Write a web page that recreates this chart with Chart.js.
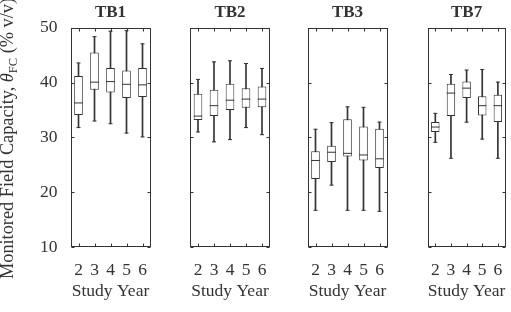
<!DOCTYPE html>
<html>
<head>
<meta charset="utf-8">
<script src="https://cdn.jsdelivr.net/npm/chart.js@4.4.1/dist/chart.umd.min.js"></script>
<style>
  body { margin: 0; background: #fff; }
  #wrap { position: relative; width: 511px; height: 312px; overflow: hidden; }
  #wrap canvas { position: absolute; left: 0; top: 0; }
  #ylabel {
    position: absolute; left: -2px; top: 279px;
    transform-origin: left top; transform: rotate(-90deg);
    font: 18.3px "Liberation Serif", "Times New Roman", serif;
    line-height: 1; white-space: nowrap; color: #333;
  }
  #ylabel sub { font-size: 12.5px; vertical-align: -4px; }
</style>
</head>
<body>
<div id="wrap">
  <canvas id="c0" width="511" height="312"></canvas>
  <canvas id="c1" width="511" height="312"></canvas>
  <canvas id="c2" width="511" height="312"></canvas>
  <canvas id="c3" width="511" height="312"></canvas>
  <div id="ylabel">Monitored Field Capacity, <i>θ</i><sub>FC</sub> (% v/v)</div>
</div>
<script>
const years = ['2', '3', '4', '5', '6'];
const sites = ['TB1', 'TB2', 'TB3', 'TB7'];
const yTicks = [10, 20, 30, 40, 50];

// five-number summaries per site, one value per study year
const tb1Min = [31.8, 33.0, 32.5, 30.8, 30.1];
const tb1Q1  = [34.1, 38.7, 38.2, 37.2, 37.4];
const tb1Med = [36.3, 40.1, 40.2, 39.7, 39.6];
const tb1Q3  = [41.2, 45.5, 42.7, 42.2, 42.7];
const tb1Max = [43.6, 48.4, 49.4, 49.5, 47.1];

const tb2Min = [31.0, 29.2, 29.6, 31.8, 30.5];
const tb2Q1  = [33.2, 33.9, 35.0, 35.4, 35.5];
const tb2Med = [33.9, 35.8, 36.8, 37.0, 37.0];
const tb2Q3  = [38.0, 38.7, 39.8, 39.0, 39.3];
const tb2Max = [40.6, 43.8, 44.0, 43.5, 42.6];

const tb3Min = [16.7, 21.3, 16.7, 16.7, 16.5];
const tb3Q1  = [22.4, 25.5, 26.5, 25.8, 24.4];
const tb3Med = [25.8, 27.3, 27.1, 26.8, 26.1];
const tb3Q3  = [27.5, 28.5, 33.3, 32.0, 31.6];
const tb3Max = [31.5, 32.7, 35.6, 35.5, 32.8];

const tb7Min = [29.1, 26.2, 32.8, 29.7, 26.2];
const tb7Q1  = [31.0, 33.9, 37.2, 34.0, 32.8];
const tb7Med = [31.9, 38.1, 39.0, 35.8, 35.8];
const tb7Q3  = [32.8, 39.8, 40.2, 37.5, 37.8];
const tb7Max = [34.4, 41.5, 42.3, 42.4, 40.1];

const stats = [
  [tb1Min, tb1Q1, tb1Med, tb1Q3, tb1Max],
  [tb2Min, tb2Q1, tb2Med, tb2Q3, tb2Max],
  [tb3Min, tb3Q1, tb3Med, tb3Q3, tb3Max],
  [tb7Min, tb7Q1, tb7Med, tb7Q3, tb7Max],
];

const panelLeft = [70.5, 190, 307.5, 427.5];
const panelRight = [150.5, 270, 387.5, 507.5];
const ink = '#333';
const serif = '"Liberation Serif", "Times New Roman", serif';

// matlab style frame with inward ticks on all four sides
const frame = {
  id: 'frame',
  afterDraw(chart) {
    const {ctx, chartArea: a, scales: {x, y}} = chart;
    const L = Math.round(a.left) + 0.5, R = Math.round(a.right) - 0.5;
    const T = Math.round(a.top) + 0.5, B = Math.round(a.bottom) - 0.5;
    const tl = 3;
    ctx.save();
    ctx.strokeStyle = ink;
    ctx.lineWidth = 1;
    ctx.strokeRect(L, T, R - L, B - T);
    ctx.beginPath();
    years.forEach((_, i) => {
      const px = Math.round(x.getPixelForValue(i)) + 0.5;
      ctx.moveTo(px, B); ctx.lineTo(px, B - tl);
      ctx.moveTo(px, T); ctx.lineTo(px, T + tl);
    });
    yTicks.forEach(v => {
      const py = Math.round(y.getPixelForValue(v)) + 0.5;
      ctx.moveTo(L, py); ctx.lineTo(L + tl, py);
      ctx.moveTo(R, py); ctx.lineTo(R - tl, py);
    });
    ctx.stroke();
    ctx.restore();
  }
};

const makePanel = (k) => {
  const [mn, q1, med, q3, mx] = stats[k];
  const boxes = q1.map((v, i) => [v, q3[i]]);
  const whiskers = mn.map((v, i) => [v, mx[i]]);
  const caps = mn.concat(mx);
  const capLabels = years.concat(years);

  new Chart(document.getElementById('c' + k), {
    type: 'bar',
    data: {
      labels: years,
      datasets: [
        {
          type: 'line', data: med, order: 0,
          showLine: false, pointStyle: 'line', pointRadius: 4.3,
          pointBorderWidth: 1, pointBorderColor: ink
        },
        {
          type: 'line', data: caps.map((v, i) => ({x: capLabels[i], y: v})), order: 1,
          showLine: false, pointStyle: 'line', pointRadius: 2,
          pointBorderWidth: 1, pointBorderColor: ink
        },
        {
          data: boxes, order: 2, grouped: false,
          backgroundColor: '#fff', borderColor: ink, borderWidth: 1,
          borderSkipped: false, barPercentage: 0.54, categoryPercentage: 1
        },
        {
          data: whiskers, order: 3, grouped: false,
          backgroundColor: ink, borderWidth: 0, barThickness: 1
        }
      ]
    },
    options: {
      responsive: false,
      animation: false,
      events: [],
      layout: { padding: { left: 0, top: 0, bottom: 0, right: 511 - panelRight[k] } },
      plugins: {
        legend: { display: false },
        tooltip: { enabled: false },
        title: {
          display: true, text: sites[k], fullSize: false, color: ink,
          font: { family: serif, size: 17, weight: 'bold' },
          padding: { top: 2.5, bottom: 5 }
        }
      },
      scales: {
        x: {
          type: 'category', offset: true,
          grid: { display: false }, border: { display: false },
          ticks: { color: ink, font: { family: serif, size: 17.5 }, padding: 5, maxRotation: 0 },
          title: {
            display: true, text: 'Study Year', color: ink,
            font: { family: serif, size: 17.5 }, padding: { top: 0, bottom: 10 }
          },
          afterFit: (s) => { s.height = 312 - 247; }
        },
        y: {
          min: 10, max: 50,
          grid: { display: false }, border: { display: false },
          ticks: {
            display: k === 0, stepSize: 10, padding: 5,
            color: ink, font: { family: serif, size: 17.5 }
          },
          afterFit: (s) => { s.width = panelLeft[k]; }
        }
      }
    },
    plugins: [frame]
  });
};

sites.forEach((_, k) => makePanel(k));
</script>
</body>
</html>
